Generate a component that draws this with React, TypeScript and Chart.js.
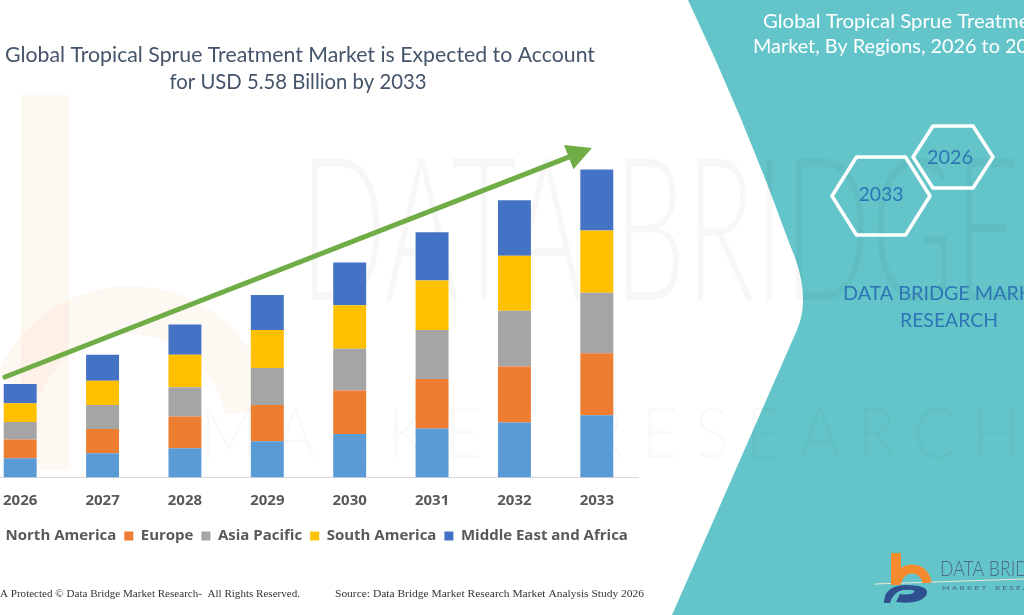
import React, { useEffect, useRef } from 'react';
import { Chart, registerables } from 'chart.js';

Chart.register(...registerables);

// ---------------- data (USD billion) ----------------
const YEARS = ['2026', '2027', '2028', '2029', '2030', '2031', '2032', '2033'];
const NORTH_AMERICA = [0.35, 0.44, 0.53, 0.66, 0.79, 0.89, 1.0, 1.13];
const EUROPE = [0.34, 0.44, 0.58, 0.66, 0.79, 0.9, 1.02, 1.13];
const ASIA_PACIFIC = [0.32, 0.44, 0.53, 0.67, 0.76, 0.89, 1.01, 1.1];
const SOUTH_AMERICA = [0.34, 0.44, 0.59, 0.69, 0.79, 0.9, 1.0, 1.13];
const MIDDLE_EAST_AFRICA = [0.35, 0.47, 0.55, 0.64, 0.78, 0.88, 1.01, 1.11];
const SERIES_NAMES = ['North America', 'Europe', 'Asia Pacific', 'South America', 'Middle East and Africa'];
const SERIES_VALUES = [NORTH_AMERICA, EUROPE, ASIA_PACIFIC, SOUTH_AMERICA, MIDDLE_EAST_AFRICA];
const SERIES_COLORS = ['#5B9BD5', '#ED7D31', '#A5A5A5', '#FFC000', '#4472C4'];

const TITLE_LINES = ['Global Tropical Sprue Treatment Market is Expected to Account', 'for USD 5.58 Billion by 2033'];
const SIDE_TITLE_LINES = ['Global Tropical Sprue Treatment', 'Market, By Regions, 2026 to 2033'];
const HEX_YEARS = ['2033', '2026'];
const FOOTER_LEFT = 'A Protected \u00A9 Data Bridge Market Research-  All Rights Reserved.';
const FOOTER_RIGHT = 'Source: Data Bridge Market Research Market Analysis Study 2026';

// ---------------- layout ----------------
const W = 1024;
const H = 615;
const OFF = 40; // canvas starts 40px left of the page (the plot is cropped on the left)

function drawText(
  ctx: CanvasRenderingContext2D,
  s: string,
  x: number,
  y: number,
  font: string,
  color: string,
  align: CanvasTextAlign = 'center',
  width?: number
) {
  ctx.save();
  ctx.font = font;
  ctx.fillStyle = color;
  ctx.textBaseline = 'middle';
  ctx.textAlign = align;
  if (width) {
    const m = ctx.measureText(s).width;
    const k = width / m;
    ctx.translate(x, y);
    ctx.scale(k, 1);
    ctx.fillText(s, 0, 0);
  } else {
    ctx.fillText(s, x, y);
  }
  ctx.restore();
}

function hexagon(ctx: CanvasRenderingContext2D, cx: number, cy: number, hw: number, hh: number) {
  const q = hw * 0.5;
  ctx.beginPath();
  ctx.moveTo(cx - hw, cy);
  ctx.lineTo(cx - q, cy - hh);
  ctx.lineTo(cx + q, cy - hh);
  ctx.lineTo(cx + hw, cy);
  ctx.lineTo(cx + q, cy + hh);
  ctx.lineTo(cx - q, cy + hh);
  ctx.closePath();
  ctx.stroke();
}

const backgroundPlugin = {
  id: 'dbmrBackground',
  beforeDraw(chart: any) {
    const ctx: CanvasRenderingContext2D = chart.ctx;
    ctx.save();
    ctx.translate(OFF, 0);
    ctx.fillStyle = '#ffffff';
    ctx.fillRect(-OFF, 0, W + OFF, H);

    // faint "b" watermark on the left
    ctx.strokeStyle = 'rgba(240,150,90,0.07)';
    ctx.lineWidth = 48;
    ctx.beginPath();
    ctx.moveTo(45, 95);
    ctx.lineTo(45, 470);
    ctx.stroke();
    ctx.beginPath();
    ctx.arc(130, 430, 120, Math.PI * 1.12, Math.PI * 1.95);
    ctx.stroke();

    // teal side panel
    ctx.fillStyle = '#63C5C9';
    ctx.beginPath();
    ctx.moveTo(688, 0);
    ctx.quadraticCurveTo(745, 120, 790, 245);
    ctx.quadraticCurveTo(812, 295, 797, 330);
    ctx.lineTo(672, 615);
    ctx.lineTo(W, 615);
    ctx.lineTo(W, 0);
    ctx.closePath();
    ctx.fill();

    // faint brand watermark letters
    drawText(ctx, 'DATA BRIDGE', 300, 235, '300 200px Lato', 'rgba(0,0,0,0.03)', 'left', 720);
    drawText(ctx, 'M A R K E T   R E S E A R C H', 200, 435, '300 70px Lato', 'rgba(0,0,0,0.022)', 'left', 820);
    ctx.restore();
  },
};

const overlayPlugin = {
  id: 'dbmrOverlay',
  afterDraw(chart: any) {
    const ctx: CanvasRenderingContext2D = chart.ctx;
    ctx.save();
    ctx.translate(OFF, 0);

    // title
    drawText(ctx, TITLE_LINES[0], 300, 55, '22px Lato', '#44546A', 'center', 590);
    drawText(ctx, TITLE_LINES[1], 298, 82, '22px Lato', '#44546A', 'center', 257);

    // green growth arrow
    const x0 = 5, y0 = 377, x1 = 592, y1 = 148;
    const len = Math.hypot(x1 - x0, y1 - y0);
    const ux = (x1 - x0) / len, uy = (y1 - y0) / len;
    const bx = x1 - ux * 25, by = y1 - uy * 25;
    ctx.strokeStyle = '#70AD47';
    ctx.lineWidth = 5;
    ctx.lineCap = 'round';
    ctx.beginPath();
    ctx.moveTo(x0, y0);
    ctx.lineTo(bx + ux * 2, by + uy * 2);
    ctx.stroke();
    ctx.fillStyle = '#70AD47';
    ctx.beginPath();
    ctx.moveTo(x1, y1);
    ctx.lineTo(bx - uy * 13, by + ux * 13);
    ctx.lineTo(bx + uy * 13, by - ux * 13);
    ctx.closePath();
    ctx.fill();

    // side panel title
    drawText(ctx, SIDE_TITLE_LINES[0], 763, 22, '20px Lato', '#ffffff', 'left', 285);
    drawText(ctx, SIDE_TITLE_LINES[1], 753, 47, '20px Lato', '#ffffff', 'left', 298);

    // hexagons
    ctx.strokeStyle = '#ffffff';
    ctx.lineWidth = 3.5;
    ctx.lineJoin = 'round';
    hexagon(ctx, 881, 196, 49, 39);
    hexagon(ctx, 953, 157, 40, 31);
    drawText(ctx, HEX_YEARS[0], 881, 195, '20px Lato', '#2E75B6', 'center', 45);
    drawText(ctx, HEX_YEARS[1], 950, 158, '20px Lato', '#2E75B6', 'center', 46);

    // brand text
    drawText(ctx, 'DATA BRIDGE MARKET', 949, 294, '20px Lato', '#2E75B6', 'center', 212);
    drawText(ctx, 'RESEARCH', 949, 321, '20px Lato', '#2E75B6', 'center', 98);

    // logo (bottom right)
    ctx.strokeStyle = 'rgba(255,235,215,0.9)';
    ctx.lineWidth = 1.2;
    ctx.beginPath();
    ctx.moveTo(875, 584);
    ctx.lineTo(1024, 579);
    ctx.stroke();
    ctx.fillStyle = '#F58A2E';
    ctx.fillRect(891, 553, 10, 32);
    ctx.strokeStyle = '#F58A2E';
    ctx.lineWidth = 9;
    ctx.lineCap = 'butt';
    ctx.beginPath();
    ctx.arc(912, 584, 15, Math.PI * 1.05, Math.PI * 1.98);
    ctx.stroke();
    ctx.fillStyle = '#2F4F8F';
    ctx.beginPath();
    ctx.moveTo(884, 603);
    ctx.quadraticCurveTo(884, 586, 905, 585);
    ctx.quadraticCurveTo(932, 585, 926, 596);
    ctx.quadraticCurveTo(918, 605, 896, 602);
    ctx.lineTo(900, 594);
    ctx.quadraticCurveTo(912, 596, 915, 591);
    ctx.quadraticCurveTo(912, 589, 903, 590);
    ctx.quadraticCurveTo(893, 592, 890, 603);
    ctx.closePath();
    ctx.fill();
    drawText(ctx, 'DATA BRIDGE', 940, 569, '300 21px Lato', '#4A6890', 'left', 112);
    drawText(ctx, 'M A R K E T    R E S E A R C H', 942, 588, '6px Lato', '#4A6890', 'left', 110);

    // footer
    drawText(ctx, FOOTER_LEFT, 0, 594, '10.5px "Liberation Serif"', '#333333', 'left', 300);
    drawText(ctx, FOOTER_RIGHT, 335, 594, '10.5px "Liberation Serif"', '#333333', 'left', 309);

    ctx.restore();
  },
};

export default function App() {
  const canvasRef = useRef<HTMLCanvasElement | null>(null);

  useEffect(() => {
    if (!canvasRef.current) return;
    const chart = new Chart(canvasRef.current, {
      type: 'bar',
      data: {
        labels: YEARS,
        datasets: SERIES_NAMES.map((name, i) => ({
          label: name,
          data: SERIES_VALUES[i],
          backgroundColor: SERIES_COLORS[i],
          borderWidth: 0,
          barPercentage: 0.4,
          categoryPercentage: 1.0,
        })),
      },
      options: {
        responsive: false,
        animation: false,
        devicePixelRatio: 1,
        layout: { padding: { left: 19, right: 386, top: 147.5, bottom: 61.5 } },
        plugins: {
          legend: {
            position: 'bottom',
            labels: {
              boxWidth: 9,
              boxHeight: 9,
              padding: 8,
              color: '#595959',
              font: { family: '"Open Sans"', size: 15, weight: 'bold' },
            },
          },
          tooltip: { enabled: false },
          title: { display: false },
        },
        scales: {
          x: {
            stacked: true,
            grid: { display: false, drawTicks: false },
            border: { display: true, color: '#D9D9D9', width: 1 },
            ticks: {
              padding: 14,
              color: '#595959',
              font: { family: '"Open Sans"', size: 15, weight: 'bold' },
            },
            afterFit: (scale: any) => {
              scale.height = 43;
            },
          },
          y: { stacked: true, display: false, min: 0, max: 6 },
        },
      },
      plugins: [backgroundPlugin, overlayPlugin],
    } as any);
    return () => chart.destroy();
  }, []);

  return (
    <div
      style={{
        position: 'fixed',
        left: 0,
        top: 0,
        width: W,
        height: H,
        overflow: 'hidden',
        background: '#ffffff',
      }}
    >
      <canvas
        ref={canvasRef}
        width={W + OFF}
        height={H}
        style={{ position: 'absolute', left: -OFF, top: 0, width: W + OFF, height: H }}
      />
    </div>
  );
}
